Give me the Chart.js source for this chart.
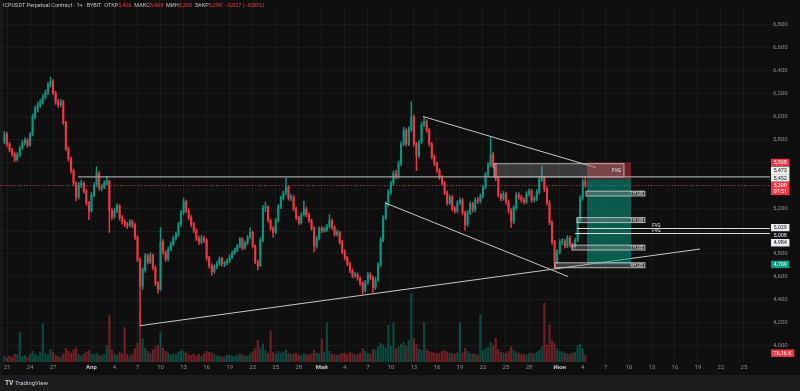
<!DOCTYPE html>
<html><head><meta charset="utf-8">
<script src="https://cdn.jsdelivr.net/npm/chart.js@4/dist/chart.umd.min.js"></script>
<style>html,body{margin:0;padding:0;background:#0f0f0f;overflow:hidden}</style>
</head><body>
<canvas id="c" width="800" height="391"></canvas>
<script>
// ---------- DATA ----------
const symbolTitle = 'ICPUSDT Perpetual Contract · 1ч · BYBIT';
const lastHour = {open: 5.426, high: 5.469, low: 5.390, close: 5.399, change: -0.027, changePct: -0.50};
const countdown = '07:51';
const lastVolumeK = 76.16;

const startDay = 19 + 2/3;      // Mar 20, 16:00 (days since Mar 1)
const stepDays = 1/3;           // 8h candles
const firstOpen = 5.780;
const closes = [
5.845,5.760,5.708,5.674,5.623,5.665,5.725,5.768,5.794,5.751,
5.845,6.000,6.068,6.102,6.128,6.171,6.205,6.274,6.308,6.205,
6.128,6.102,6.128,5.948,5.717,5.631,5.528,5.417,5.297,5.400,
5.417,5.348,5.246,5.177,5.314,5.400,5.503,5.374,5.383,5.417,
5.434,5.177,5.126,5.177,5.220,5.117,5.083,5.057,5.049,5.083,
5.057,4.946,4.749,4.517,4.663,4.783,4.731,4.791,4.680,4.543,
4.492,4.903,4.817,4.757,4.843,4.886,4.937,4.971,5.057,5.160,
5.254,5.177,5.117,5.057,5.006,4.937,4.903,4.937,4.920,4.766,
4.697,4.646,4.689,4.714,4.757,4.714,4.722,4.740,4.774,4.809,
4.834,4.869,4.929,4.851,4.894,4.946,4.989,4.869,4.731,4.697,
4.920,5.203,5.212,5.091,5.023,4.989,5.091,5.211,5.288,5.331,
5.383,5.288,5.297,5.194,5.117,5.074,5.143,5.194,5.143,5.091,
5.023,4.869,4.937,5.023,5.006,5.014,5.040,5.091,5.031,4.971,
4.989,4.903,4.817,4.766,4.714,4.654,4.612,4.620,4.586,4.543,
4.483,4.552,4.620,4.594,4.509,4.577,4.706,4.920,5.117,5.237,
5.340,5.417,5.503,5.477,5.588,5.760,5.880,5.760,5.888,6.000,
5.760,5.657,5.777,5.931,5.957,5.880,5.760,5.648,5.588,5.528,
5.468,5.417,5.331,5.246,5.297,5.194,5.177,5.246,5.271,5.160,
5.057,5.160,5.237,5.186,5.271,5.263,5.306,5.383,5.494,5.580,
5.665,5.571,5.460,5.314,5.288,5.323,5.254,5.177,5.083,5.203,
5.314,5.297,5.271,5.254,5.323,5.348,5.271,5.280,5.340,5.451,
5.460,5.366,5.246,5.074,4.903,4.731,4.817,4.903,4.910,4.869,
4.937,4.877,4.869,4.920,5.100,5.288,5.434,5.399];
const highs = [
5.870,5.862,5.775,5.722,5.690,5.684,5.741,5.790,5.815,5.806,
5.862,6.020,6.092,6.125,6.150,6.190,6.230,6.298,6.342,6.322,
6.220,6.148,6.150,6.140,5.960,5.735,5.645,5.540,5.430,5.425,
5.445,5.430,5.365,5.260,5.335,5.420,5.563,5.520,5.405,5.440,
5.477,5.445,5.195,5.200,5.240,5.230,5.135,5.100,5.075,5.100,
5.098,5.070,4.960,4.765,4.680,4.805,4.800,4.812,4.800,4.695,
4.560,5.031,4.925,4.830,4.860,4.905,4.955,4.990,5.075,5.180,
5.288,5.270,5.195,5.135,5.075,5.020,4.955,4.963,4.955,4.935,
4.780,4.715,4.705,4.735,4.775,4.772,4.735,4.758,4.792,4.825,
4.850,4.885,4.945,4.940,4.910,4.962,5.031,5.000,4.880,4.745,
4.940,5.225,5.254,5.220,5.105,5.040,5.110,5.230,5.305,5.350,
5.460,5.400,5.320,5.310,5.210,5.130,5.160,5.263,5.210,5.160,
5.105,5.040,4.955,5.040,5.040,5.035,5.058,5.143,5.105,5.045,
5.010,5.000,4.920,4.835,4.780,4.730,4.670,4.640,4.635,4.600,
4.560,4.570,4.640,4.635,4.610,4.595,4.725,4.940,5.135,5.255,
5.360,5.435,5.525,5.530,5.610,5.780,5.905,5.895,5.910,6.128,
6.015,5.775,5.795,5.950,5.991,5.970,5.895,5.775,5.665,5.605,
5.545,5.485,5.435,5.350,5.315,5.310,5.215,5.265,5.290,5.285,
5.175,5.180,5.255,5.250,5.290,5.295,5.325,5.400,5.512,5.600,
5.820,5.690,5.590,5.480,5.330,5.345,5.340,5.270,5.195,5.220,
5.335,5.335,5.315,5.290,5.345,5.370,5.365,5.300,5.360,5.470,
5.563,5.475,5.385,5.265,5.090,4.920,4.835,4.925,4.935,4.925,
4.960,4.955,4.895,4.940,5.120,5.310,5.455,5.477];
const lows = [
5.760,5.735,5.690,5.652,5.605,5.610,5.648,5.712,5.750,5.730,
5.738,5.830,5.978,6.040,6.080,6.110,6.150,6.190,6.255,6.190,
6.105,6.078,6.085,5.930,5.700,5.610,5.505,5.395,5.263,5.280,
5.380,5.330,5.225,5.100,5.165,5.300,5.385,5.355,5.350,5.370,
5.400,4.989,5.100,5.110,5.160,5.095,5.060,5.035,5.020,5.035,
5.030,4.925,4.730,4.174,4.490,4.640,4.710,4.715,4.660,4.520,
4.457,4.480,4.795,4.735,4.740,4.825,4.870,4.920,4.955,5.040,
5.140,5.160,5.100,5.035,4.985,4.915,4.880,4.890,4.900,4.745,
4.675,4.612,4.630,4.670,4.700,4.695,4.690,4.705,4.725,4.760,
4.795,4.820,4.855,4.835,4.840,4.880,4.935,4.850,4.712,4.663,
4.690,4.905,5.170,5.075,5.005,4.946,4.975,5.080,5.195,5.270,
5.315,5.270,5.265,5.175,5.100,5.055,5.060,5.130,5.125,5.075,
5.005,4.817,4.850,4.920,4.985,4.990,4.995,5.025,5.015,4.955,
4.955,4.885,4.800,4.748,4.695,4.635,4.594,4.595,4.568,4.525,
4.449,4.465,4.535,4.575,4.465,4.490,4.560,4.690,4.905,5.100,
5.220,5.320,5.400,5.455,5.460,5.570,5.745,5.740,5.745,5.870,
5.740,5.528,5.640,5.760,5.910,5.860,5.740,5.630,5.570,5.510,
5.450,5.400,5.315,5.225,5.230,5.175,5.155,5.160,5.230,5.140,
5.006,5.040,5.145,5.165,5.170,5.240,5.245,5.290,5.365,5.475,
5.560,5.550,5.440,5.295,5.265,5.270,5.235,5.155,5.031,5.065,
5.185,5.275,5.250,5.235,5.240,5.305,5.250,5.255,5.265,5.325,
5.430,5.345,5.225,5.055,4.885,4.680,4.715,4.800,4.880,4.850,
4.855,4.860,4.850,4.850,4.905,5.085,5.270,5.380];
const volumesK = [
60,45,70,55,90,80,330,60,75,50,
85,120,90,70,110,430,95,80,140,110,
75,60,55,90,150,120,100,140,160,90,
70,85,110,130,95,80,100,75,65,90,
180,520,140,90,75,110,95,385,80,70,
90,150,210,560,260,150,120,100,140,170,
190,330,160,120,100,80,90,85,110,140,
120,100,80,75,90,70,85,60,95,120,
110,100,80,65,70,55,60,75,80,70,
60,75,90,80,65,70,95,110,150,242,
160,200,130,100,350,110,90,120,100,110,
130,100,85,90,100,80,70,95,85,80,
90,130,100,95,250,110,440,120,90,80,
75,85,95,100,90,110,95,80,90,100,
150,120,100,90,140,130,170,210,190,160,
410,180,440,150,170,200,220,180,240,770,
260,200,150,130,440,140,120,110,100,95,
100,120,130,110,100,95,90,105,440,100,
150,120,95,90,85,80,530,130,150,160,
220,180,265,140,110,100,95,120,170,130,
110,100,90,85,80,95,100,90,110,130,
170,660,190,420,240,210,150,120,110,100,
95,90,100,110,180,200,150,76.16];

// axis ticks (days since Mar 1)
const dayTicks = [20,23,26,31,34,37,40,43,46,49,52,55,58,61,64,67,70,73,76,79,82,85,88,92,95,98,101,104,107,110,113,116];
const dayTickLabels = ['21','24','27','Апр','4','7','10','13','16','19','22','25','28','Май','4','7','10','13','16','19','22','25','28','Июн','4','7','10','13','16','19','22','25'];
const priceTicks = [4.0,4.2,4.4,4.6,4.8,5.0,5.2,5.4,5.6,5.8,6.0,6.2,6.4,6.6,6.8];

// drawings (day, price)
const trendLines = [
  [[37.32, 4.174], [110.27, 4.843]],
  [[69.24, 5.246], [93.08, 4.603]],
  [[74.19, 6.000], [96.72, 5.554]]
];
const levelLine = {fromDay: 29.25, price: 5.473};
const fvgBox = {fromDay: 83.44, toDay: 100.37, top: 5.588, bottom: 5.473, label: 'FVG'};
const shortPosition = {fromDay: 95.55, toDay: 101.28, stop: 5.598, entry: 5.452, target: 4.709};
const obBoxes = [
  {fromDay: 95.42, toDay: 103.1, top: 5.348, bottom: 5.306, label: '1H OB'},
  {fromDay: 94.25, toDay: 103.1, top: 5.117, bottom: 5.074, label: '1H OB'},
  {fromDay: 93.60, toDay: 103.1, top: 4.877, bottom: 4.834, label: '1H OB'},
  {fromDay: 91.38, toDay: 103.1, top: 4.723, bottom: 4.680, label: '4H OB'}
];
const fvgLines = [
  {fromDay: 94.25, price: 5.029, label: 'FVG', labelDay: 104.6},
  {fromDay: 94.00, price: 4.984, label: 'FVG', labelDay: 104.6}
];
// price-axis tags: value, kind
const tagValues = [5.399, 4.709, 5.598, 5.029, 5.008, 4.984, 5.452, 5.473];
const tagKinds  = ['last','target','stop','white','dark','white','white','white'];

// ---------- BUILD ----------
const UP = '#089981', DOWN = '#f23645';
const FONT = 'Roboto, "Liberation Sans", sans-serif';
const times = closes.map((_, i) => startDay + i * stepDays);
const opens = closes.map((c, i) => i === 0 ? firstOpen : closes[i - 1]);
const isUp = i => closes[i] >= opens[i];
const bodies = times.map((t, i) => ({x: t, y: [opens[i], closes[i]]}));
const wicks = times.map((t, i) => ({x: t, y: [lows[i], highs[i]]}));
const vols = times.map((t, i) => ({x: t, y: volumesK[i]}));
const fmt = v => v.toFixed(3).replace('.', ',');

const lineSets = trendLines.map((seg, k) => ({
  type: 'line', label: 'trend' + k, data: seg.map(([x, y]) => ({x, y})),
  borderColor: '#c8c8c8', borderWidth: 1, pointRadius: 0, order: 0, yAxisID: 'y'
}));

const overlay = {
  id: 'overlay',
  beforeDraw(chart) {
    const c = chart.ctx;
    c.save();
    c.fillStyle = '#0f0f0f'; c.fillRect(0, 0, 800, 391);
    c.fillStyle = '#1c1c1e'; c.fillRect(0, 375, 800, 16);
    c.fillStyle = '#171717'; c.fillRect(0, 0, 3, 375);
    c.restore();
  },
  beforeDatasetsDraw(chart) {
    const c = chart.ctx, ys = chart.scales.y, a = chart.chartArea;
    c.save();
    const yl = Math.round(ys.getPixelForValue(lastHour.close)) + 0.5;
    c.strokeStyle = 'rgba(242,54,69,0.7)'; c.setLineDash([1, 2]); c.lineWidth = 1;
    c.beginPath(); c.moveTo(a.left, yl); c.lineTo(a.right, yl); c.stroke();
    c.restore();
  },
  afterDatasetsDraw(chart) {
    const c = chart.ctx, xs = chart.scales.x, ys = chart.scales.y, a = chart.chartArea;
    const X = d => xs.getPixelForValue(d), Y = p => ys.getPixelForValue(p);
    c.save();
    c.beginPath(); c.rect(a.left, a.top, a.right - a.left, a.bottom - a.top); c.clip();
    const sp = shortPosition;
    c.fillStyle = 'rgba(242,54,69,0.42)';
    c.fillRect(X(sp.fromDay), Y(sp.stop), X(sp.toDay) - X(sp.fromDay), Y(sp.entry) - Y(sp.stop));
    c.fillStyle = 'rgba(8,153,129,0.55)';
    c.fillRect(X(sp.fromDay), Y(sp.entry), X(sp.toDay) - X(sp.fromDay), Y(sp.target) - Y(sp.entry));
    const fb = fvgBox;
    c.fillStyle = 'rgba(150,150,150,0.32)';
    c.fillRect(X(fb.fromDay), Y(fb.top), X(fb.toDay) - X(fb.fromDay), Y(fb.bottom) - Y(fb.top));
    c.strokeStyle = 'rgba(215,215,215,0.75)'; c.lineWidth = 1;
    c.strokeRect(X(fb.fromDay), Y(fb.top), X(fb.toDay) - X(fb.fromDay), Y(fb.bottom) - Y(fb.top));
    c.font = '5px ' + FONT; c.fillStyle = '#e6e6e6'; c.textAlign = 'right'; c.textBaseline = 'middle';
    c.fillText(fb.label, X(fb.toDay) - 3, (Y(fb.top) + Y(fb.bottom)) / 2);
    obBoxes.forEach(b => {
      const x0 = X(b.fromDay), x1 = X(b.toDay), y0 = Y(b.top), y1 = Y(b.bottom);
      c.fillStyle = 'rgba(150,150,150,0.35)'; c.fillRect(x0, y0, x1 - x0, y1 - y0);
      c.strokeStyle = 'rgba(215,215,215,0.8)'; c.strokeRect(x0, y0, x1 - x0, y1 - y0);
      c.fillStyle = '#e6e6e6'; c.font = '4.5px ' + FONT; c.textAlign = 'right';
      c.fillText(b.label, x1 - 2, (y0 + y1) / 2 + 0.3);
    });
    const yLev = Y(levelLine.price);
    c.strokeStyle = '#a0a0a0'; c.lineWidth = 1.4;
    c.beginPath(); c.moveTo(X(levelLine.fromDay), yLev); c.lineTo(a.right, yLev); c.stroke();
    fvgLines.forEach(l => {
      const y = Math.round(Y(l.price)) + 0.5;
      c.strokeStyle = '#dcdcdc'; c.lineWidth = 1;
      c.beginPath(); c.moveTo(X(l.fromDay), y); c.lineTo(a.right, y); c.stroke();
      c.fillStyle = '#e6e6e6'; c.font = '4.5px ' + FONT; c.textAlign = 'center'; c.textBaseline = 'bottom';
      c.fillText(l.label, X(l.labelDay), y - 0.5);
    });
    c.restore();
  },
  afterDraw(chart) {
    const c = chart.ctx, ys = chart.scales.y, yv = chart.scales.yVol;
    c.save();
    c.font = '5.5px ' + FONT; c.textBaseline = 'middle'; c.textAlign = 'left';
    const grey = '#c4c4c4', red = '#f23645';
    const parts = [
      [symbolTitle, grey], ['  ОТКР', grey], [fmt(lastHour.open), red],
      ['  МАКС', grey], [fmt(lastHour.high), red], ['  МИН', grey], [fmt(lastHour.low), red],
      ['  ЗАКР', grey], [fmt(lastHour.close), red],
      ['  ' + fmt(lastHour.change).replace('-', '−') + ' (' + lastHour.changePct.toFixed(2).replace('.', ',').replace('-', '−') + '%)', red]
    ];
    let hx = 3;
    parts.forEach(([t, col]) => { c.fillStyle = col; c.fillText(t, hx, 6); hx += c.measureText(t).width; });
    const H = 7.5, placed = [];
    tagValues.forEach((v, k) => {
      const kind = tagKinds[k];
      const extra = kind === 'last' ? 6 : 0;
      let y = ys.getPixelForValue(v);
      for (let it = 0; it < 20; it++) {
        let moved = false;
        for (const p of placed) {
          const top = y - H / 2, bot = y + H / 2 + extra;
          if (top < p.bot - 0.01 && bot > p.top + 0.01) {
            if (v > p.v) y = p.top - H / 2 - extra; else y = p.bot + H / 2;
            moved = true;
          }
        }
        if (!moved) break;
      }
      placed.push({v, y, kind, top: y - H / 2, bot: y + H / 2 + extra});
    });
    c.font = '5.5px ' + FONT; c.textBaseline = 'middle'; c.textAlign = 'left';
    const styles = {
      last: ['#f23645', '#ffffff'], target: ['#089981', '#ffffff'], stop: ['#f23645', '#ffffff'],
      white: ['#ececec', '#131722'], dark: ['#0f0f0f', '#ececec']
    };
    placed.forEach(p => {
      const [bg, fg] = styles[p.kind];
      const txt = fmt(p.v);
      const w = c.measureText(txt).width + 5;
      c.fillStyle = bg; c.fillRect(771, p.top, w, p.bot - p.top);
      c.fillStyle = fg; c.fillText(txt, 773.5, p.y + 0.3);
      if (p.kind === 'last') c.fillText(countdown, 773.5, p.y + 6.3);
    });
    const vy = yv.getPixelForValue(lastVolumeK) - 2;
    const vt = lastVolumeK.toFixed(2).replace('.', ',') + ' K';
    const vw = c.measureText(vt).width + 5;
    c.fillStyle = '#f23645'; c.fillRect(771, vy - H / 2, vw, H);
    c.fillStyle = '#ffffff'; c.fillText(vt, 773.5, vy + 0.3);
    c.fillStyle = '#d1d4dc'; c.font = 'bold 6.5px ' + FONT; c.fillText('TV', 5, 383);
    c.font = '6px ' + FONT; c.fillText('TradingView', 15, 383);
    c.restore();
  }
};

new Chart(document.getElementById('c'), {
  type: 'bar',
  data: {
    datasets: [
      ...lineSets,
      {label: 'body', data: bodies, grouped: false, barThickness: 1.4, minBarLength: 1, order: 2,
        backgroundColor: ctx => isUp(ctx.dataIndex) ? UP : DOWN, borderWidth: 0},
      {label: 'wick', data: wicks, grouped: false, barThickness: 0.8, order: 3,
        backgroundColor: ctx => isUp(ctx.dataIndex) ? UP : DOWN, borderWidth: 0},
      {label: 'volume', data: vols, yAxisID: 'yVol', grouped: false, barThickness: 1.5, order: 4,
        backgroundColor: ctx => isUp(ctx.dataIndex) ? 'rgba(8,153,129,0.42)' : 'rgba(242,54,69,0.42)', borderWidth: 0}
    ]
  },
  options: {
    responsive: false, animation: false, devicePixelRatio: 1,
    layout: {padding: {left: 0, right: 0, top: 0, bottom: 16}, autoPadding: false},
    plugins: {legend: {display: false}, tooltip: {enabled: false}},
    scales: {
      x: {
        type: 'linear', min: 19.088, max: 119.39, offset: false,
        grid: {color: '#1a1a1a', drawTicks: false, offset: false}, border: {display: false},
        afterBuildTicks: s => { s.ticks = dayTicks.map(v => ({value: v})); },
        afterFit: s => { s.height = 13; },
        ticks: {
          autoSkip: false, maxRotation: 0, minRotation: 0, padding: 2,
          color: ctx => /[А-я]/.test(dayTickLabels[ctx.index] || '') ? '#c4c4c4' : '#8e8e8e',
          font: ctx => ({size: 6, family: FONT, weight: /[А-я]/.test(dayTickLabels[ctx.index] || '') ? 'bold' : 'normal'}),
          callback: (v, i) => dayTickLabels[i]
        }
      },
      y: {
        position: 'right', min: 3.857, max: 6.959,
        grid: {color: '#1a1a1a', drawTicks: false}, border: {display: false},
        afterBuildTicks: s => { s.ticks = priceTicks.map(v => ({value: v})); },
        afterFit: s => { s.width = 30; },
        ticks: {
          padding: 3, color: '#8e8e8e', font: {size: 6, family: FONT},
          callback: v => tagValues.some(t => Math.abs(t - v) < 0.06) ? '' : fmt(v)
        }
      },
      yVol: {display: false, min: 0, max: 3982}
    }
  },
  plugins: [overlay]
});
</script>
</body></html>
